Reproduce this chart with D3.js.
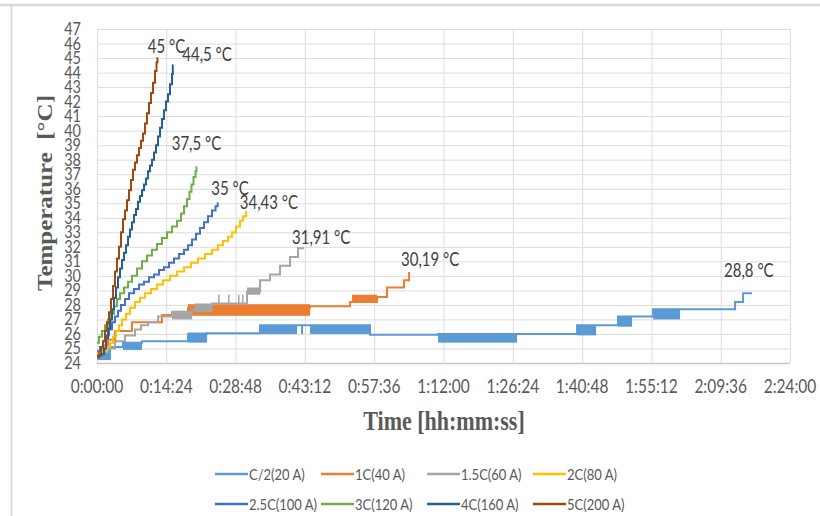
<!DOCTYPE html>
<html><head><meta charset="utf-8">
<script src="https://cdn.jsdelivr.net/npm/d3@7"></script>
<style>body{margin:0;background:#fff}svg{display:block}</style>
</head><body>
<svg id="chart" width="820" height="516"></svg>
<script>
// ---------- DATA ----------
const seriesNames = ["C/2(20 A)","1C(40 A)","1.5C(60 A)","2C(80 A)","2.5C(100 A)","3C(120 A)","4C(160 A)","5C(200 A)"];
const endLabels = ["28,8 °C","30,19 °C","31,91 °C","34,43 °C","35 °C","37,5 °C","44,5 °C","45 °C"];
const xTickLabels = ["0:00:00","0:14:24","0:28:48","0:43:12","0:57:36","1:12:00","1:26:24","1:40:48","1:55:12","2:09:36","2:24:00"];
const yTickLabels = [24,25,26,27,28,29,30,31,32,33,34,35,36,37,38,39,40,41,42,43,44,45,46,47];

// [time (s), temperature (°C)] step points
const c2Steps = [[0,24.3],[162,25.1],[324,25.4],[561,25.5],[1135,26.0],[1372,26.05],[2033,26.6],[3404,25.95],[4252,26.0],[5985,26.6],[6496,27.2],[6933,27.7],[7955,28.2],[8055,28.8],[8167,28.8]];
// [t start, t end, low, high] fluctuation bands
const c2Bands = [[12,162,24.2,24.9],[324,561,24.9,25.45],[1135,1372,25.4,26.1],[2033,2494,26.0,26.6],[2544,2569,26.0,26.6],[2656,3404,26.0,26.6],[4252,5237,25.4,25.95],[5985,6222,25.9,26.6],[6496,6671,26.5,27.2],[6933,7269,27.0,27.7]];

const c1Steps = [[0,24.5],[37,24.8],[75,25.2],[137,25.6],[224,26.2],[436,26.8],[810,27.3],[935,27.5],[1135,27.8],[2656,27.9],[3155,28.2],[3492,28.55],[3616,29.2],[3828,29.7],[3891,30.19],[3903,30.19]];
const c1Bands = [[1135,2656,27.25,28.05],[3180,3492,28.2,28.7]];

const c15Steps = [[0,24.6],[37,24.9],[100,25.0],[224,25.5],[349,25.9],[474,26.3],[549,26.6],[636,26.8],[761,27.2],[935,27.3],[1185,27.6],[1222,27.8],[1434,28.1],[1870,28.9],[2033,29.7],[2157,30.1],[2282,30.7],[2407,31.3],[2506,31.91],[2581,31.91]];
const c15Bands = [[935,1185,27.0,27.6],[1222,1434,27.5,28.1],[1509,1522,28.1,28.7],[1634,1647,28.1,28.7],[1758,1771,28.1,28.7],[1808,1821,28.1,28.7],[1870,2033,28.7,29.2]];

const c20Steps = [[0,24.6],[75,24.8],[125,25.1],[162,25.4],[200,25.8],[237,26.2],[274,26.6],[312,27.0],[362,27.4],[411,27.8],[474,28.2],[536,28.5],[599,28.8],[673,29.1],[748,29.4],[823,29.7],[910,30.0],[998,30.3],[1085,30.6],[1172,30.9],[1259,31.2],[1347,31.5],[1434,31.8],[1509,32.1],[1571,32.4],[1634,32.7],[1683,33.0],[1733,33.4],[1783,33.8],[1821,34.1],[1860,34.43],[1867,34.43]];

const c25Steps = [[0,24.8],[37,25.1],[75,25.5],[112,25.9],[150,26.3],[187,26.8],[224,27.2],[262,27.6],[299,28.0],[349,28.4],[399,28.8],[461,29.1],[524,29.4],[586,29.6],[648,29.9],[711,30.1],[773,30.4],[835,30.6],[898,30.9],[960,31.2],[1023,31.5],[1085,31.8],[1135,32.1],[1185,32.5],[1234,32.9],[1284,33.3],[1334,33.7],[1384,34.1],[1434,34.5],[1478,34.8],[1505,35.0],[1513,35.0]];

const c30Steps = [[0,25.4],[25,25.8],[62,26.2],[100,26.6],[137,27.0],[175,27.4],[212,27.9],[249,28.4],[287,28.8],[337,29.2],[387,29.6],[436,30.0],[499,30.5],[561,31.0],[623,31.4],[686,31.8],[748,32.2],[810,32.6],[873,33.0],[935,33.4],[998,33.8],[1047,34.3],[1085,34.8],[1122,35.3],[1153,35.8],[1178,36.3],[1203,36.8],[1228,37.2],[1240,37.5],[1243,37.5]];

const c40Steps = [[0,24.5],[50,24.6],[87,25.0],[112,25.7],[137,26.4],[162,27.0],[187,27.7],[212,28.5],[237,29.2],[262,29.9],[287,30.5],[312,31.1],[337,31.6],[362,32.1],[387,32.7],[411,33.2],[436,33.7],[461,34.2],[486,34.6],[511,35.1],[536,35.5],[561,35.9],[586,36.3],[611,36.7],[636,37.2],[661,37.6],[686,38.0],[711,38.5],[736,39.0],[761,39.6],[786,40.2],[811,40.8],[835,41.4],[860,42.0],[885,42.5],[910,43.2],[935,43.9],[945,44.5],[951,44.5]];

const c50Steps = [[0,24.4],[25,24.6],[50,25.1],[75,25.5],[100,26.2],[125,26.8],[150,27.5],[175,28.4],[200,29.3],[224,30.3],[249,31.2],[274,32.0],[299,33.0],[324,33.9],[349,34.5],[374,35.2],[399,35.9],[424,36.6],[449,37.3],[474,37.8],[499,38.3],[524,38.8],[549,39.3],[574,39.8],[599,40.5],[623,41.2],[648,41.9],[673,42.6],[698,43.3],[723,44.1],[742,44.7],[754,45.0],[758,45.0]];

const seriesSteps = [c2Steps, c1Steps, c15Steps, c20Steps, c25Steps, c30Steps, c40Steps, c50Steps];
const seriesBands = [c2Bands, c1Bands, c15Bands, [], [], [], [], []];

// ---------- STYLE / LAYOUT ----------
const colors = ["#5B9BD5","#ED7D31","#A5A5A5","#FFC000","#4472C4","#70AD47","#255E91","#9E480E"];
const K = 1.25; // vertical text stretch
const svg = d3.select("#chart");
const toSec = s => { const p = s.split(":").map(Number); return p[0]*3600 + p[1]*60 + p[2]; };
const xTicks = xTickLabels.map(toSec);

const x = d3.scaleLinear().domain([0, d3.max(xTicks)]).range([97, 790]);
const y = d3.scaleLinear().domain([d3.min(yTickLabels), d3.max(yTickLabels)]).range([363, 29]);

// outer border
svg.append("line").attr("x1",0).attr("x2",820).attr("y1",5).attr("y2",5).attr("stroke","#d9d9d9").attr("stroke-width",2.5);
svg.append("line").attr("x1",11.5).attr("x2",11.5).attr("y1",5).attr("y2",516).attr("stroke","#d9d9d9").attr("stroke-width",1.8);

// gridlines
const grid = svg.append("g");
grid.selectAll(".hg").data(yTickLabels).join("line")
  .attr("x1", x.range()[0]).attr("x2", x.range()[1])
  .attr("y1", d => y(d)+0.5).attr("y2", d => y(d)+0.5)
  .attr("stroke", d => d === yTickLabels[0] ? "#c6c6c6" : "#dcdcdc").attr("stroke-width", d => d === yTickLabels[0] ? 1.5 : 1);
grid.selectAll(".vg").data(xTicks).join("line")
  .attr("x1", d => x(d)+0.5).attr("x2", d => x(d)+0.5)
  .attr("y1", y.range()[1]).attr("y2", y.range()[0])
  .attr("stroke", "#dcdcdc").attr("stroke-width", 1);

// y tick labels
svg.append("g").selectAll("text").data(yTickLabels).join("text")
  .attr("transform", d => `translate(81,${y(d)}) scale(1,1.15)`)
  .attr("dy","0.36em").attr("text-anchor","end")
  .attr("font-family","Lato, 'Open Sans', sans-serif").attr("font-size",14.5).attr("fill","#595959")
  .text(d => d);

// x tick labels
svg.append("g").selectAll("text").data(xTicks).join("text")
  .attr("transform", d => `translate(${x(d)},392.5) scale(1,${K})`)
  .attr("text-anchor","middle")
  .attr("font-family","Lato, 'Open Sans', sans-serif").attr("font-size",15.5).attr("fill","#595959")
  .text((d,i) => xTickLabels[i]);

// axis titles
svg.append("text").attr("transform", `translate(444,430) scale(1,${K})`)
  .attr("text-anchor","middle").attr("font-family","'Liberation Serif','Times New Roman',serif")
  .attr("font-weight","bold").attr("font-size",22).attr("fill","#595959").text("Time [hh:mm:ss]");
svg.append("text").attr("transform", `translate(46,193) scale(1,${K}) rotate(-90)`)
  .attr("text-anchor","middle").attr("dy","0.3em").attr("font-family","'Liberation Serif','Times New Roman',serif")
  .attr("font-weight","bold").attr("font-size",20).attr("fill","#595959").attr("xml:space","preserve")
  .text("Temperature  [°C]");

// series
const line = d3.line().x(d => x(d[0])).y(d => y(d[1])).curve(d3.curveStepAfter);
const plot = svg.append("g");
seriesSteps.forEach((pts, i) => {
  const g = plot.append("g");
  g.selectAll("rect").data(seriesBands[i]).join("rect")
    .attr("x", d => x(d[0])).attr("width", d => Math.max(1.5, x(d[1]) - x(d[0])))
    .attr("y", d => y(d[3])).attr("height", d => y(d[2]) - y(d[3]))
    .attr("fill", colors[i]);
  g.append("path").datum(pts).attr("d", line)
    .attr("fill","none").attr("stroke", colors[i]).attr("stroke-width", 2).attr("stroke-linejoin","miter");
});

// end labels
const labelDx = [-28,-9,-12,-7,-7,-25,9,-10];
const labelDy = [-16,-7,-4,-3,-8,-17,-4,-5];
svg.append("g").selectAll("text").data(seriesSteps).join("text")
  .attr("transform", (d,i) => { const p = d[d.length-1]; return `translate(${x(p[0])+labelDx[i]},${y(p[1])+labelDy[i]}) scale(1,${K})`; })
  .attr("font-family","Lato, 'Open Sans', sans-serif").attr("font-size",15).attr("fill","#404040")
  .text((d,i) => endLabels[i]);

// legend
const legCols = [215, 321, 427, 533], legRows = [474, 504];
const leg = svg.append("g").selectAll("g").data(seriesNames).join("g")
  .attr("transform", (d,i) => `translate(${legCols[i%4]},${legRows[Math.floor(i/4)]})`);
leg.append("line").attr("x1",0).attr("x2",33).attr("y1",0).attr("y2",0)
  .attr("stroke",(d,i) => colors[i]).attr("stroke-width",2.5);
leg.append("text").attr("transform",`translate(34,5.5) scale(1,${K})`)
  .attr("font-family","Lato, 'Open Sans', sans-serif").attr("font-size",13).attr("fill","#595959")
  .text(d => d);
</script>
</body></html>
